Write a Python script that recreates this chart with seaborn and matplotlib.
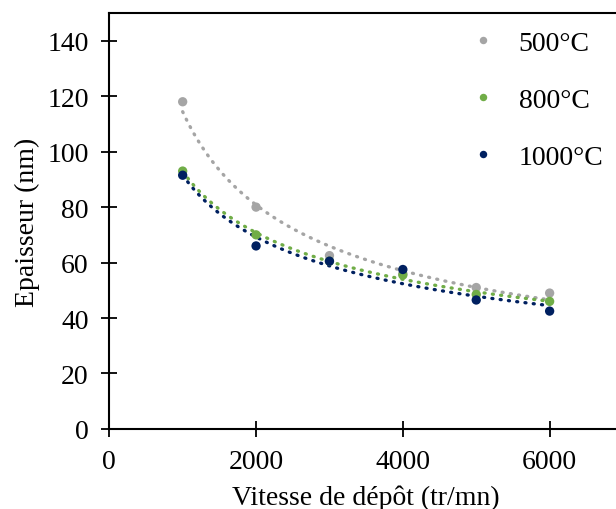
import numpy as np
import pandas as pd
import seaborn as sns
from matplotlib import pyplot as plt

#%%

vitesse = [1000, 2000, 3000, 4000, 5000, 6000]
ep_500 = [118, 80, 62.5, 56, 51, 49]
ep_800 = [93, 70, 60.5, 55.5, 48.5, 46]
ep_1000 = [91.5, 66, 60.5, 57.5, 46.5, 42.5]
labels = ["500°C", "800°C", "1000°C"]
colors = ["#A5A5A5", "#70AD47", "#002060"]

#%%

df = pd.DataFrame({
    "vitesse": vitesse * 3,
    "ep": ep_500 + ep_800 + ep_1000,
    "temp": [labels[0]] * 6 + [labels[1]] * 6 + [labels[2]] * 6,
})

sns.set_style("white")
plt.rcParams['font.family'] = ['Liberation Serif', 'DejaVu Serif']
plt.rcParams['text.color'] = 'black'
plt.rcParams['axes.labelcolor'] = 'black'
plt.rcParams['xtick.color'] = 'black'
plt.rcParams['ytick.color'] = 'black'
fs = 20

fig = plt.figure(figsize=(6.16, 5.10), dpi=100)
ax = fig.add_axes([0.1774, 0.157, 0.834, 0.8155])

# power trendlines (excel style)
xs = np.linspace(min(vitesse), max(vitesse), 200)
for lab, col in zip(labels, colors):
    sub = df[df.temp == lab]
    b, a = np.polyfit(np.log(sub.vitesse), np.log(sub.ep), 1)
    ax.plot(xs, np.exp(a) * xs ** b, color=col, lw=2.4, ls=(0, (0.3, 2.2)),
            dash_capstyle="round", zorder=1)

sns.scatterplot(data=df, x="vitesse", y="ep", hue="temp", palette=colors,
                s=45, edgecolor="none", ax=ax, zorder=2)

ax.set_xlim(0, 7000)
ax.set_ylim(0, 150)
ax.set_xticks([0, 2000, 4000, 6000])
ax.set_yticks(range(0, 141, 20))
ax.set_xlabel("Vitesse de dépôt (tr/mn)", fontsize=fs, labelpad=7)
ax.set_ylabel("Epaisseur (nm)", fontsize=fs, labelpad=5)
ax.tick_params(direction="inout", length=11.5, width=1.3, labelsize=fs,
               bottom=True, left=True, pad=9)
for s in ["left", "top", "bottom"]:
    ax.spines[s].set_linewidth(1.5)
    ax.spines[s].set_color("black")
ax.spines["right"].set_visible(False)

leg = ax.legend(loc="upper left", bbox_to_anchor=(0.651, 1.018), frameon=False,
                labelspacing=1.13, handlelength=1.0, handletextpad=0.8,
                markerscale=0.8, fontsize=fs, title=None)

fig.savefig("out.png", dpi=100)
